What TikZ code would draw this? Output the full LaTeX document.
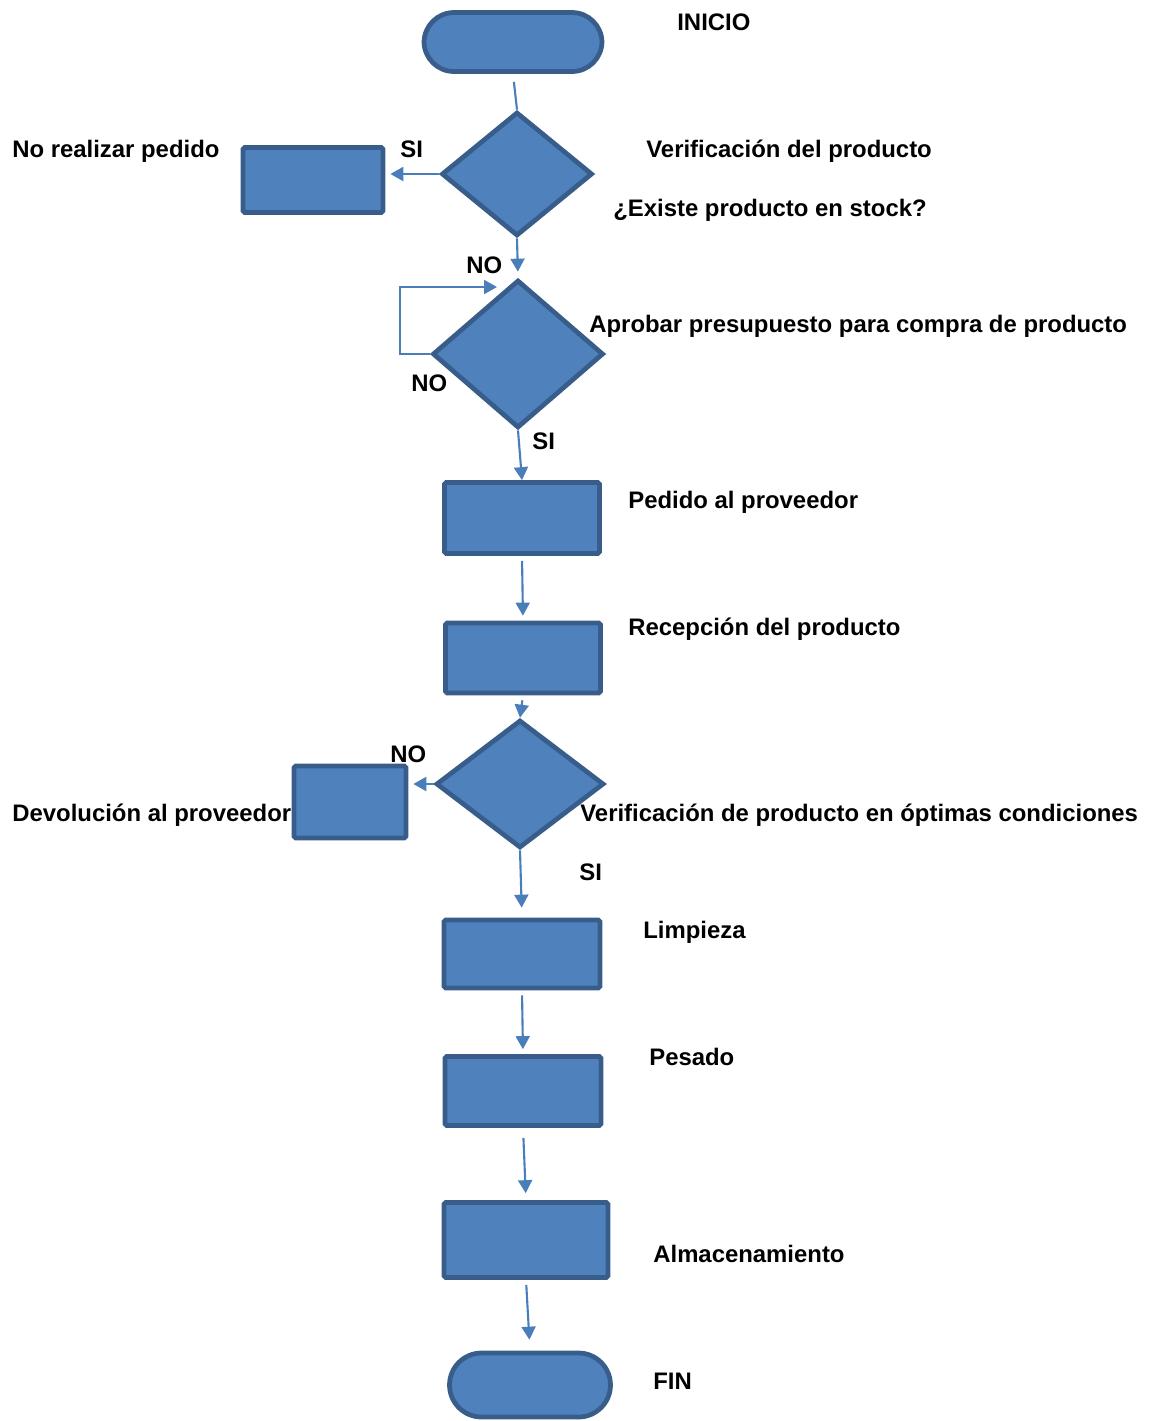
\documentclass[tikz,border=0pt]{standalone}
\usepackage{fontspec}
\setmainfont{Liberation Sans}
\usetikzlibrary{arrows.meta,shapes.geometric}
\definecolor{relleno}{HTML}{4F81BD}
\definecolor{borde}{HTML}{385D8A}
\definecolor{flecha}{HTML}{4A7EBB}
\tikzset{
  basic/.style    = {draw=borde, fill=relleno, line width=2.7pt, inner sep=0pt},
  term/.style     = {basic, rectangle, rounded corners=0.6cm},
  proc/.style     = {basic, rectangle, rounded corners=1pt},
  decision/.style = {basic, diamond},
  etiqueta/.style = {font=\fontsize{13.6}{16}\selectfont\bfseries, inner sep=0pt, text height=9.7pt, text depth=0pt, anchor=west},
  linea/.style    = {draw=flecha, line width=1.2pt, shorten <=0.1cm, shorten >=0.1cm}
}

\begin{document}
\begin{tikzpicture}[x=0.02cm,y=-0.02cm,>={Triangle[width=0.28cm,length=0.26cm]}]
    \useasboundingbox (0,0) rectangle (1152,1421);

    % texto que queda debajo de la caja
    \node[etiqueta] (tdev) at (12,813) {Devolución al proveedor};

    % figuras del diagrama
    \node[term, minimum width=3.56cm, minimum height=1.18cm] (ini) at (513,42) {};
    \node[decision, minimum width=3.02cm, minimum height=2.48cm] (d1) at (517,174) {};
    \node[proc, minimum width=2.8cm, minimum height=1.3cm] (nop) at (313,180) {};
    \node[decision, minimum width=3.42cm, minimum height=2.96cm] (d2) at (518,354) {};
    \node[proc, minimum width=3.1cm, minimum height=1.42cm] (ped) at (522,518) {};
    \node[proc, minimum width=3.1cm, minimum height=1.4cm] (rec) at (523,658) {};
    \node[decision, minimum width=3.36cm, minimum height=2.56cm] (d3) at (520,784) {};
    \node[proc, minimum width=2.24cm, minimum height=1.44cm] (dev) at (350,802) {};
    \node[proc, minimum width=3.12cm, minimum height=1.36cm] (lim) at (522,954) {};
    \node[proc, minimum width=3.12cm, minimum height=1.38cm] (pes) at (523,1091) {};
    \node[proc, minimum width=3.28cm, minimum height=1.5cm] (alm) at (526,1240) {};
    \node[term, minimum width=3.22cm, minimum height=1.28cm, rounded corners=0.64cm] (fin) at (530,1385) {};

    % conectores
    \draw[linea, shorten <=0.16cm, shorten >=0pt] (ini.south) -- (d1.north);
    \draw[linea,->, shorten <=0pt] (d1.west) -- (d1.west -| nop.east);
    \draw[linea,->, shorten <=0pt, shorten >=0.12cm] (d1.south) -- (d2.north);
    \coordinate (lazo) at (497,287);
    \draw[linea,->, shorten <=0pt, shorten >=0pt] (d2.west) -- ++(-30,0) |- (lazo);
    \draw[linea,->, shorten <=0pt, shorten >=0pt] (d2.south) -- (ped.north);
    \draw[linea,->] (ped.south) -- (rec.north);
    \draw[linea,->, shorten >=0pt] (rec.south) -- (d3.north);
    \draw[linea,->, shorten <=0pt] (d3.west) -- (d3.west -| dev.east);
    \draw[linea,->, shorten <=0pt, shorten >=0.2cm] (d3.south) -- (lim.north);
    \draw[linea,->] (lim.south) -- (pes.north);
    \draw[linea,->, shorten <=0.2cm, shorten >=0.14cm] (pes.south) -- (alm.north);
    \draw[linea,->, shorten >=0.22cm] (alm.south) -- (fin.north);

    % textos
    \node[etiqueta] (tini) at (677,22) {INICIO};
    \node[etiqueta] (tnop) at (12,149) {No realizar pedido};
    \node[etiqueta] (si1) at (400,149) {SI};
    \node[etiqueta] (tver) at (646,149) {Verificación del producto};
    \node[etiqueta] (texi) at (613,208) {¿Existe producto en stock?};
    \node[etiqueta] (no1) at (466,265) {NO};
    \node[etiqueta] (tapr) at (589,324) {Aprobar presupuesto para compra de producto};
    \node[etiqueta] (no2) at (411,383) {NO};
    \node[etiqueta] (si2) at (532,441) {SI};
    \node[etiqueta] (tped) at (628,500) {Pedido al proveedor};
    \node[etiqueta] (trec) at (628,627) {Recepción del producto};
    \node[etiqueta] (no3) at (390,754) {NO};
    \node[etiqueta] (tcon) at (580,813) {Verificación de producto en óptimas condiciones};
    \node[etiqueta] (si3) at (579,872) {SI};
    \node[etiqueta] (tlim) at (643,930) {Limpieza};
    \node[etiqueta] (tpes) at (649,1057) {Pesado};
    \node[etiqueta] (talm) at (653,1254) {Almacenamiento};
    \node[etiqueta] (tfin) at (653,1381) {FIN};
\end{tikzpicture}
\end{document}
